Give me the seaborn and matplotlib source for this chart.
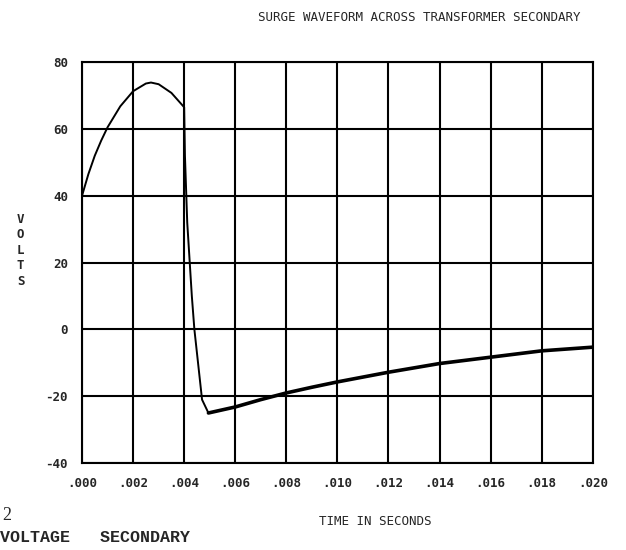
import matplotlib
matplotlib.use("Agg")
import matplotlib.pyplot as plt
import seaborn as sns
import pandas as pd

# values
time_s = [0.0, 0.00025, 0.0005, 0.00075, 0.001, 0.0015, 0.002, 0.0025, 0.0027, 0.003, 0.0035, 0.004,
          0.00403, 0.00412, 0.0043, 0.0044, 0.0047, 0.00495,
          0.006, 0.007, 0.008, 0.009, 0.010, 0.012, 0.014, 0.016, 0.018, 0.020]
volts = [40, 46.5, 52, 56.5, 60.5, 66.8, 71.3, 73.6, 73.9, 73.4, 70.8, 66.5,
         52, 32, 10, 0, -21, -25,
         -23.2, -21, -19, -17.3, -15.7, -12.8, -10.2, -8.3, -6.4, -5.3]
x_ticks = [0.000, 0.002, 0.004, 0.006, 0.008, 0.010, 0.012, 0.014, 0.016, 0.018, 0.020]
x_labels = [".000", ".002", ".004", ".006", ".008", ".010", ".012", ".014", ".016", ".018", ".020"]
y_ticks = [-40, -20, 0, 20, 40, 60, 80]
y_labels = ["-40", "-20", "0", "20", "40", "60", "80"]

df = pd.DataFrame({"time": time_s, "volts": volts})

sns.set_style("white")
plt.rcParams["font.family"] = ["DejaVu Sans Mono", "DejaVu Sans"]

fig = plt.figure(figsize=(6.26, 5.5), dpi=100)
ax = fig.add_axes([0.131, 0.158, 0.816, 0.729])

# rising part thin, decaying tail thicker (ripple on the scan)
n_split = 18
sns.lineplot(data=df.iloc[:n_split], x="time", y="volts", ax=ax, color="black", linewidth=1.4)
sns.lineplot(data=df.iloc[n_split - 1:], x="time", y="volts", ax=ax, color="black", linewidth=2.6)

ax.set_xlim(0, 0.020)
ax.set_ylim(-40, 80)
ax.set_xticks(x_ticks)
ax.set_xticklabels(x_labels, fontsize=9, fontweight="bold")
ax.set_yticks(y_ticks)
ax.set_yticklabels(y_labels, fontsize=9, fontweight="bold")
ax.grid(True, color="black", linewidth=1.5)
ax.tick_params(axis="both", direction="out", length=7, width=1.5, color="black", pad=3)
for s in ax.spines.values():
    s.set_color("black")
    s.set_linewidth(1.5)
ax.set_xlabel("")
ax.set_ylabel("")

fig.text(0.67, 0.968, "SURGE WAVEFORM ACROSS TRANSFORMER SECONDARY",
         ha="center", va="center", fontsize=9)
fig.text(0.6, 0.052, "TIME IN SECONDS", ha="center", va="center", fontsize=9)
fig.text(0.033, 0.545, "V\nO\nL\nT\nS", ha="center", va="center",
         fontsize=9, fontweight="bold", linespacing=1.25)

# fragments of the page caption below the plot
fig.text(0.003, 0.063, "2", ha="left", va="center", fontsize=13,
         family="Liberation Serif")
fig.text(0.0, 0.022, "VOLTAGE   SECONDARY", ha="left", va="center", fontsize=12,
         fontweight="bold", family="Liberation Mono")

fig.savefig("out.png", dpi=100)
